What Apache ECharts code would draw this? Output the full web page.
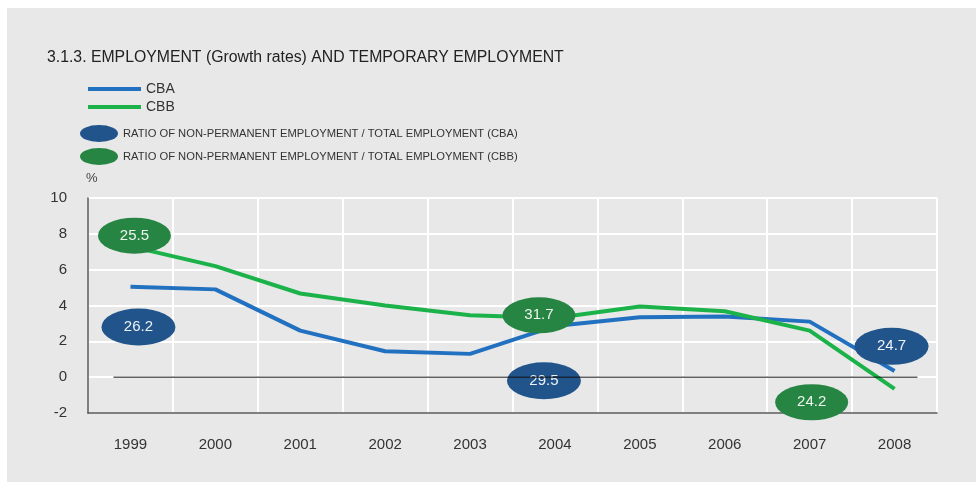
<!DOCTYPE html>
<html>
<head>
<meta charset="utf-8">
<script src="https://cdn.jsdelivr.net/npm/echarts@6/dist/echarts.min.js"></script>
<style>
  html, body { margin: 0; padding: 0; background: #fff; }
  .panel { position: absolute; left: 7px; top: 8px; right: 0; bottom: 0; background: #e7e8e7; }
  #chart { position: absolute; left: 0; top: 0; width: 976px; height: 482px; }
</style>
</head>
<body>
<div class="panel"></div>
<div id="chart"></div>
<script>
// 年份
const years = ['1999', '2000', '2001', '2002', '2003', '2004', '2005', '2006', '2007', '2008']
// 就业增长率 (%)
const cba = [5.05, 4.9, 2.6, 1.45, 1.3, 2.85, 3.35, 3.38, 3.1, 0.35]
const cbb = [7.3, 6.2, 4.67, 4.0, 3.45, 3.3, 3.95, 3.68, 2.6, -0.65]
// 非永久就业比例标签 (CBA / CBB): 年份, 在图中的高度, 数值
const ratioCbaYears = ['1999', '2004', '2008']
const ratioCbaPos = [2.8, -0.2, 1.72]
const ratioCbaVals = ['26.2', '29.5', '24.7']
const ratioCbbYears = ['1999', '2004', '2007']
const ratioCbbPos = [7.9, 3.45, -1.4]
const ratioCbbVals = ['25.5', '31.7', '24.2']
const yTicks = [-2, 0, 2, 4, 6, 8, 10]

const ratioNameA = 'RATIO OF NON-PERMANENT EMPLOYMENT / TOTAL EMPLOYMENT (CBA)'
const ratioNameB = 'RATIO OF NON\u2010PERMANENT EMPLOYMENT / TOTAL EMPLOYMENT (CBB)'
const ellipse = 'path://M0,10 A10,10 0 1,1 20,10 A10,10 0 1,1 0,10 Z'
const font = '"Liberation Sans", Arial, sans-serif'

// 气泡的小偏移
const offsetA = { '1999': [8, 0], '2004': [-11, 0], '2008': [-3, 0] }
const offsetB = { '1999': [4, 0], '2004': [-16, 0], '2007': [2, 0] }

function ratioData (ys, pos, vals, offs) {
  return ys.map((y, i) => ({
    value: [y, pos[i]],
    label: { formatter: vals[i] },
    symbolOffset: offs[y] || [0, 0]
  }))
}

const chart = echarts.init(document.getElementById('chart'), null, { renderer: 'canvas' })
chart.setOption({
  backgroundColor: 'transparent',
  animation: false,
  textStyle: { fontFamily: font },
  title: {
    text: '3.1.3. EMPLOYMENT (Growth rates) AND TEMPORARY EMPLOYMENT',
    left: 42,
    top: 45,
    textStyle: { fontSize: 15.8, fontWeight: 'normal', color: '#222', fontFamily: font }
  },
  legend: [
    {
      data: ['CBA', 'CBB'],
      orient: 'vertical',
      left: 88,
      top: 82,
      padding: 0,
      itemWidth: 53,
      itemHeight: 4,
      itemGap: 4,
      icon: 'rect',
      textStyle: { fontSize: 14, color: '#333', fontFamily: font }
    },
    {
      data: [ratioNameA, ratioNameB],
      orient: 'vertical',
      left: 80,
      top: 125,
      padding: 0,
      itemWidth: 38,
      itemHeight: 17,
      itemGap: 6,
      icon: ellipse,
      symbolKeepAspect: false,
      itemStyle: { borderWidth: 0 },
      textStyle: { fontSize: 11.2, color: '#333', fontFamily: font }
    }
  ],
  graphic: [
    { type: 'text', left: 86, top: 172, style: { text: '%', fontSize: 13, fill: '#444', fontFamily: font } }
  ],
  grid: { left: 88, right: 39, top: 198, bottom: 69 },
  xAxis: [
    {
      type: 'category',
      data: years,
      boundaryGap: true,
      axisLine: { onZero: false, lineStyle: { color: '#555', width: 1.5 } },
      axisTick: { show: false },
      axisLabel: { fontSize: 15, color: '#333', margin: 24, fontFamily: font },
      splitLine: { show: true, interval: 0, lineStyle: { color: '#fff', width: 2 } }
    },
    {
      // 隐藏的辅助轴，用于画零线
      type: 'value',
      min: -0.5,
      max: 9.5,
      show: false
    }
  ],
  yAxis: {
    type: 'value',
    min: -2,
    max: 10,
    interval: 2,
    axisLine: { show: true, onZero: false, lineStyle: { color: '#555', width: 1.5 } },
    axisTick: { show: false },
    axisLabel: {
      fontSize: 15,
      color: '#333',
      margin: 21,
      fontFamily: font,
      formatter: v => (yTicks.indexOf(v) >= 0 ? String(v) : '')
    },
    splitLine: { lineStyle: { color: '#fff', width: 2 } }
  },
  series: [
    {
      name: 'CBA',
      type: 'line',
      data: cba,
      symbol: 'none',
      lineStyle: { color: '#2271c1', width: 4 },
      itemStyle: { color: '#2271c1' },
      z: 2
    },
    {
      name: 'CBB',
      type: 'line',
      data: cbb,
      symbol: 'none',
      lineStyle: { color: '#1bb24a', width: 4 },
      itemStyle: { color: '#1bb24a' },
      z: 3
    },
    {
      name: ratioNameA,
      type: 'scatter',
      data: ratioData(ratioCbaYears, ratioCbaPos, ratioCbaVals, offsetA),
      symbol: ellipse,
      symbolSize: [74, 37],
      itemStyle: { color: '#20548b', opacity: 1 },
      label: { show: true, position: 'inside', fontSize: 15, color: '#eef2f7', fontFamily: font },
      z: 4
    },
    {
      name: ratioNameB,
      type: 'scatter',
      data: ratioData(ratioCbbYears, ratioCbbPos, ratioCbbVals, offsetB),
      symbol: ellipse,
      symbolSize: [73, 36],
      itemStyle: { color: '#268542', opacity: 1 },
      label: { show: true, position: 'inside', fontSize: 15, color: '#eef5ef', fontFamily: font },
      z: 4
    },
    {
      // 零线
      name: 'zero',
      type: 'line',
      xAxisIndex: 1,
      data: [[-0.2, 0], [9.27, 0]],
      symbol: 'none',
      silent: true,
      lineStyle: { color: '#111', width: 1 },
      z: 20
    }
  ]
})
</script>
</body>
</html>
